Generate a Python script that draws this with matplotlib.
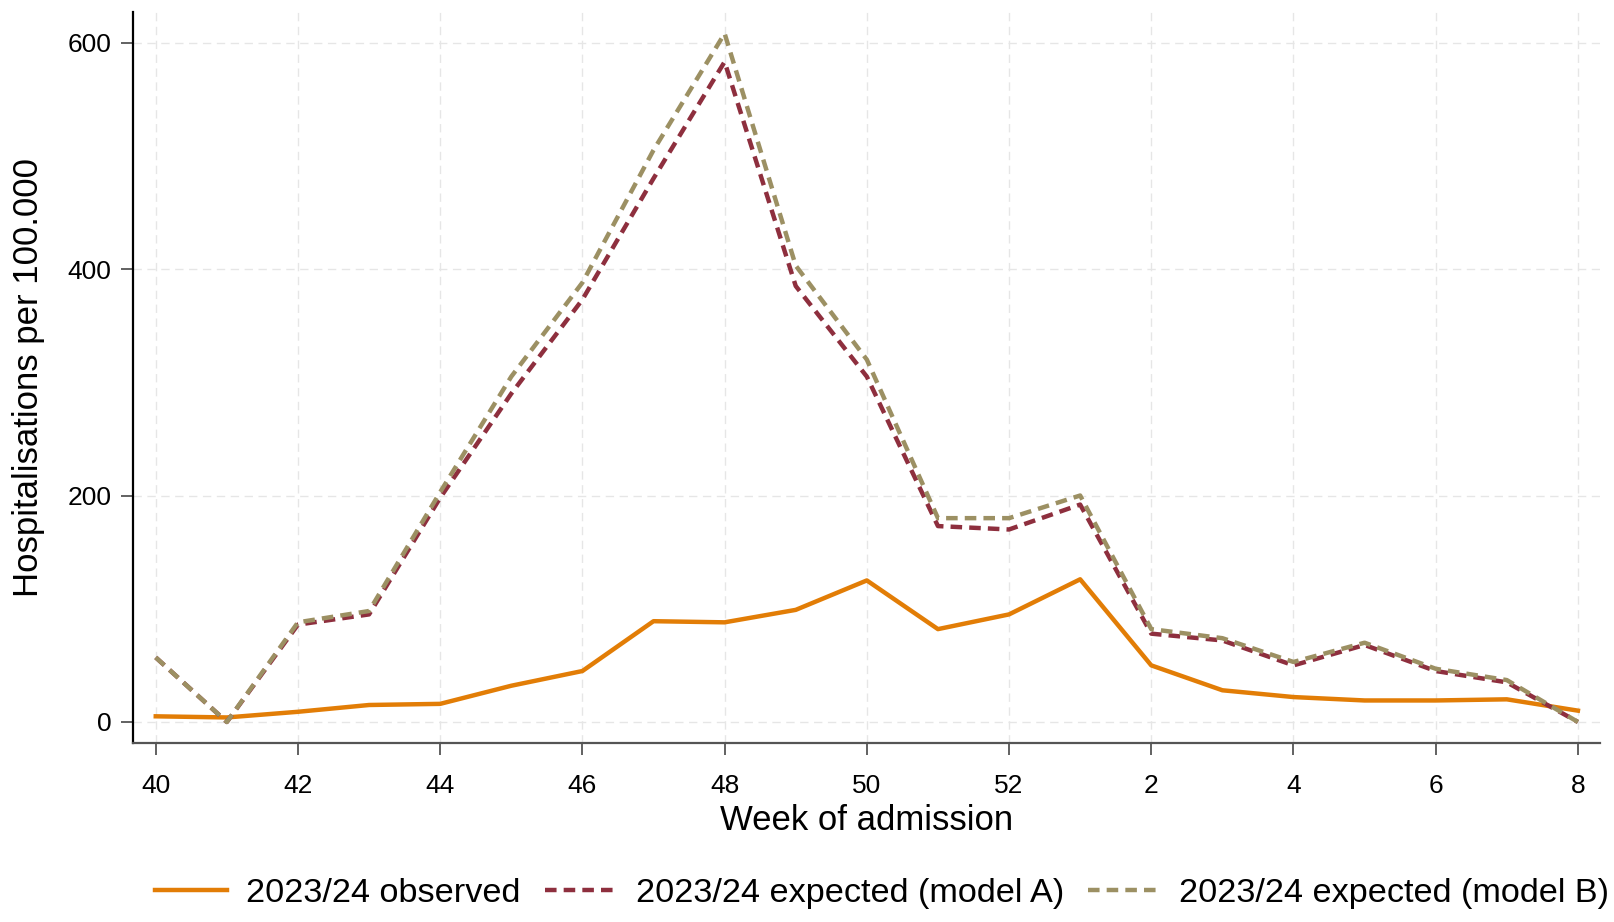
import matplotlib
matplotlib.use('Agg')
from matplotlib import pyplot as plt

weeks = [40, 41, 42, 43, 44, 45, 46, 47, 48, 49, 50, 51, 52, 1, 2, 3, 4, 5, 6, 7, 8]
observed = [5, 4, 9, 15, 16, 32, 45, 89, 88, 99, 125, 82, 95, 126, 50, 28, 22, 19, 19, 20, 10]
model_a = [57, 0, 86, 95, 198, 290, 373, 480, 583, 385, 305, 173, 170, 192, 78, 72, 50, 68, 45, 35, 0]
model_b = [57, 0, 88, 98, 203, 305, 388, 505, 608, 403, 320, 180, 180, 200, 82, 74, 53, 70, 47, 37, 0]

plt.rcParams['font.family'] = ['Liberation Sans', 'DejaVu Sans']

fig = plt.figure(figsize=(16.14, 9.22), dpi=100)
ax = fig.add_axes([0.0824, 0.1941, 0.9089, 0.7929])

x = list(range(len(weeks)))
ax.plot(x, observed, color='#e27d06', lw=3.2, label='2023/24 observed', zorder=3)
ax.plot(x, model_a, color='#8e2f3e', lw=3.2, ls=(0, (2.6, 1.6)), label='2023/24 expected (model A)', zorder=4)
ax.plot(x, model_b, color='#9c9063', lw=3.2, ls=(0, (2.6, 1.6)), label='2023/24 expected (model B)', zorder=5)

ticks = x[::2]
ax.set_xticks(ticks)
ax.set_xticklabels([str(weeks[i]) for i in ticks])
ax.set_yticks([0, 200, 400, 600])
ax.set_xlim(-0.32, 20.31)
ax.set_ylim(-18.6, 627)

ax.grid(True, color='#e6e6e6', ls=(0, (6, 4)), lw=1)
ax.set_axisbelow(True)
for s in ['top', 'right']:
    ax.spines[s].set_visible(False)
ax.spines['left'].set_linewidth(1.6)
ax.spines['bottom'].set_linewidth(1.6)
ax.spines['bottom'].set_color('#555555')
ax.tick_params(axis='both', labelsize=19, length=8.6, width=1.3, color='#555555')
ax.tick_params(axis='x', pad=14)
ax.tick_params(axis='y', pad=7)

ax.set_xlabel('Week of admission', fontsize=25)
ax.set_ylabel('Hospitalisations per 100.000', fontsize=25)
ax.xaxis.set_label_coords(0.5, -0.083)
ax.yaxis.set_label_coords(-0.060, 0.5)

fig.legend(loc='center', bbox_to_anchor=(0.5465, 0.031), ncol=3, frameon=False,
           fontsize=24.7, handlelength=2.1, columnspacing=0.7, handletextpad=0.55)

fig.savefig('out.png', dpi=100)
